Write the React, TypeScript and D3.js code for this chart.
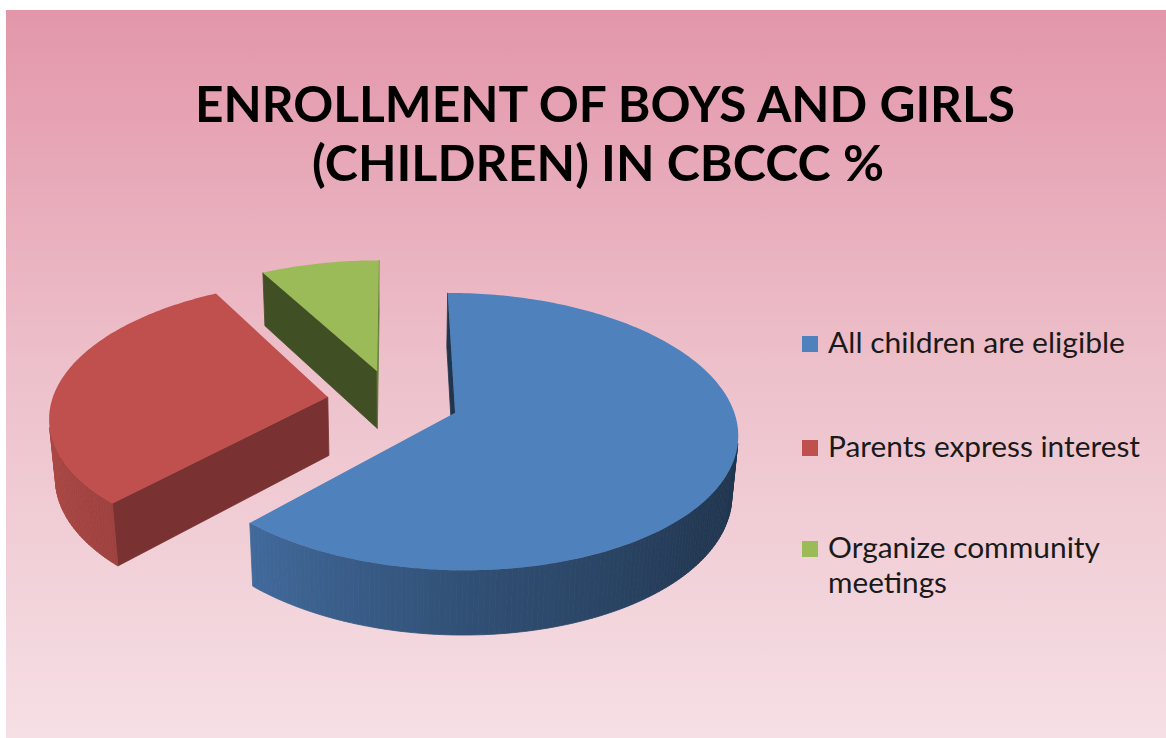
import React from "react";
import * as d3 from "d3";

// chart data
const categories = ["All children are eligible", "Parents express interest", "Organize community meetings"];
const values = [62, 30, 8];
const colors = ["#4f81bd", "#c0504d", "#9bbb59"];
const titleLines = ["ENROLLMENT OF BOYS AND GIRLS", "(CHILDREN) IN CBCCC %"];
const legendLines = [["All children are eligible"], ["Parents express interest"], ["Organize community", "meetings"]];
const legendWidths = [[297], [312], [272, 119]];

const W = 1166;
const H = 738;

// 3d view settings
const cx = 393;
const cy = 401;
const R = 276;
const explode = 66;
const thick = 68;
const tilt = (28.8 * Math.PI) / 180;
const camDist = 1810;
const cam = [0, camDist * Math.sin(tilt), camDist * Math.cos(tilt)];

function project(x: number, y: number, z: number): [number, number] {
  const depth = z * Math.cos(tilt) + y * Math.sin(tilt);
  const up = y * Math.cos(tilt) - z * Math.sin(tilt);
  const s = camDist / (camDist - depth);
  return [cx + x * s, cy - up * s];
}

function visible(n: number[], p: number[]) {
  return n[0] * (cam[0] - p[0]) + n[1] * (cam[1] - p[1]) + n[2] * (cam[2] - p[2]) > 0;
}

function shade(c: string, k: number) {
  const r = d3.rgb(c);
  return d3.rgb(r.r * k, r.g * k, r.b * k).formatHex();
}

const deg = (a: number) => (((a * 180) / Math.PI) % 360 + 360) % 360;

// brightness of the curved outer wall, by angle
const sideShade = d3.scaleLinear().domain([90, 130, 180, 225, 270, 300]).range([0.39, 0.45, 0.62, 0.83, 0.92, 0.95]).clamp(true);
// brightness of the flat cut faces, by normal angle
const cutShade = d3.scaleLinear().domain([90, 135, 240, 360]).range([0.66, 0.63, 0.42, 0.4]).clamp(true);

const line = d3.line<[number, number]>().curve(d3.curveLinearClosed);

type Face = { d: string; fill: string; stroke?: string };

function buildSlices() {
  const arcs = d3.pie<number>().sort(null).value((d) => d)(values);
  const slices = arcs.map((a, i) => {
    const a0 = a.startAngle;
    const a1 = a.endAngle;
    const mid = (a0 + a1) / 2;
    const ox = explode * Math.sin(mid);
    const oz = -explode * Math.cos(mid);
    const rim = (t: number, y: number) => project(ox + R * Math.sin(t), y, oz - R * Math.cos(t));
    const apexTop = project(ox, 0, oz);
    const apexBot = project(ox, -thick, oz);
    const n = Math.max(2, Math.ceil(((a1 - a0) * 180) / Math.PI));
    const ts = d3.range(n + 1).map((k) => a0 + ((a1 - a0) * k) / n);
    const base = colors[i];
    const faces: Face[] = [];

    // cut faces
    const cuts = [
      { t: a0, n: [-Math.cos(a0), 0, -Math.sin(a0)] },
      { t: a1, n: [Math.cos(a1), 0, Math.sin(a1)] },
    ];
    cuts.forEach((c) => {
      const p = [ox + (R / 2) * Math.sin(c.t), -thick / 2, oz - (R / 2) * Math.cos(c.t)];
      if (!visible(c.n, p)) return;
      const na = deg(Math.atan2(c.n[0], -c.n[2]));
      const fill = shade(base, cutShade(na));
      faces.push({ d: line([apexTop, rim(c.t, 0), rim(c.t, -thick), apexBot]) as string, fill, stroke: fill });
    });

    // outer wall
    for (let k = 0; k < n; k++) {
      const t0 = ts[k];
      const t1 = ts[k + 1];
      const tm = (t0 + t1) / 2;
      const nn = [Math.sin(tm), 0, -Math.cos(tm)];
      const p = [ox + R * Math.sin(tm), -thick / 2, oz - R * Math.cos(tm)];
      if (!visible(nn, p)) continue;
      const fill = shade(base, sideShade(deg(tm)));
      faces.push({ d: line([rim(t0, 0), rim(t1, 0), rim(t1, -thick), rim(t0, -thick)]) as string, fill, stroke: fill });
    }

    // top
    faces.push({ d: line([apexTop, ...ts.map((t) => rim(t, 0))]) as string, fill: base });

    return { key: categories[i], faces, depth: oz * Math.cos(tilt) };
  });
  return slices.sort((a, b) => a.depth - b.depth);
}

export default function App() {
  const slices = buildSlices();
  const legendY = [353, 457, 558];
  return (
    <svg width={W} height={H} style={{ position: "absolute", left: 0, top: 0 }}>
      <defs>
        <linearGradient id="bg" x1="0" y1="0" x2="0" y2="1">
          <stop offset="0" stopColor="#e396aa" />
          <stop offset="0.5" stopColor="#edc1cb" />
          <stop offset="1" stopColor="#f6dfe5" />
        </linearGradient>
      </defs>
      <rect x={0} y={0} width={W} height={H} fill="#ffffff" />
      <rect x={6} y={10} width={W - 6} height={H - 10} fill="url(#bg)" />

      <g fontFamily="Lato, 'Open Sans', sans-serif" fontWeight={700} fontSize={50} fill="#000" textAnchor="middle">
        <text x={605} y={122} textLength={820} lengthAdjust="spacingAndGlyphs">
          {titleLines[0]}
        </text>
        <text x={598} y={181} textLength={572} lengthAdjust="spacingAndGlyphs">
          {titleLines[1]}
        </text>
      </g>

      <g>
        {slices.map((s) => (
          <g key={s.key}>
            {s.faces.map((f, j) => (
              <path key={j} d={f.d} fill={f.fill} stroke={f.stroke || "none"} strokeWidth={f.stroke ? 0.8 : 0} strokeLinejoin="round" />
            ))}
          </g>
        ))}
      </g>

      <g fontFamily="Lato, 'Open Sans', sans-serif" fontSize={28} fill="#1a1a1a">
        {legendLines.map((ls, i) => (
          <g key={categories[i]}>
            <rect x={802} y={legendY[i] - 17} width={16} height={16} fill={colors[i]} />
            {ls.map((t, j) => (
              <text key={j} x={828} y={legendY[i] + j * 35} textLength={legendWidths[i][j]} lengthAdjust="spacingAndGlyphs">
                {t}
              </text>
            ))}
          </g>
        ))}
      </g>
    </svg>
  );
}
